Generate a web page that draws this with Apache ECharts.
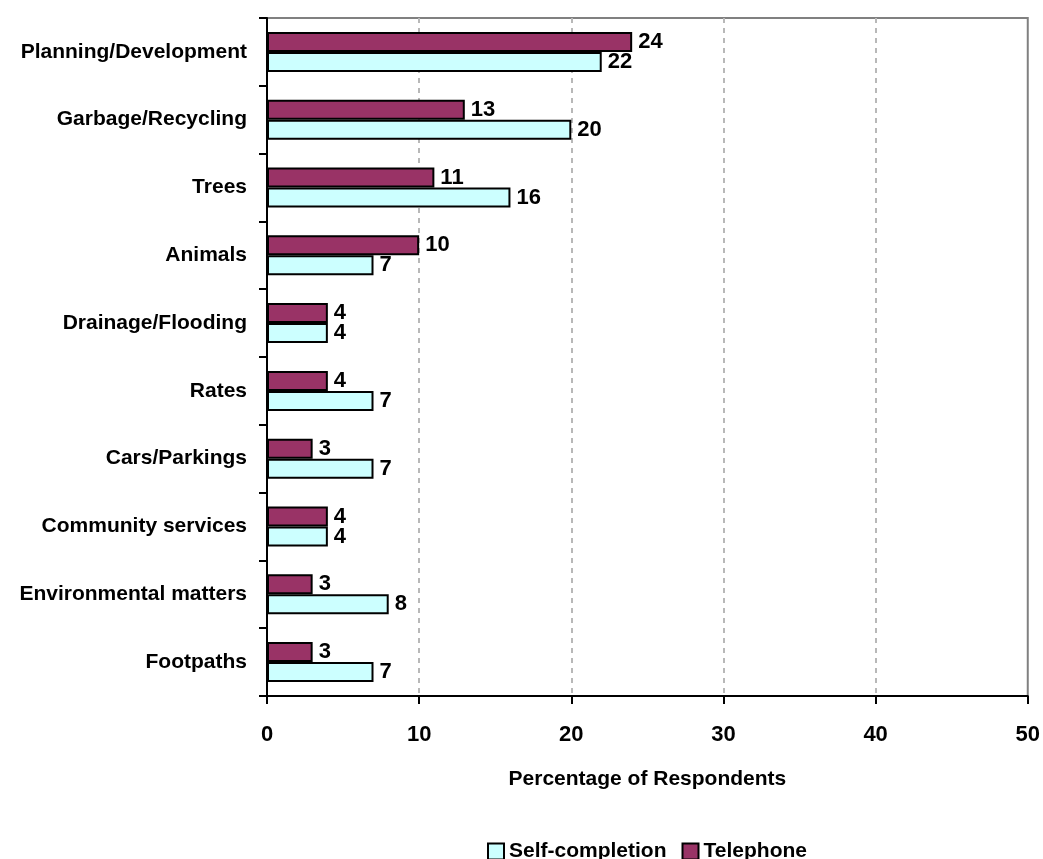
<!DOCTYPE html>
<html>
<head>
<meta charset="utf-8">
<script src="https://cdn.jsdelivr.net/npm/echarts@6/dist/echarts.min.js"></script>
<style>
html,body{margin:0;padding:0;background:#fff;}
#chart{width:1043px;height:859px;}
</style>
</head>
<body>
<div id="chart"></div>
<script>
const categories = ["Planning/Development","Garbage/Recycling","Trees","Animals","Drainage/Flooding","Rates","Cars/Parkings","Community services","Environmental matters","Footpaths"];
const telephone = [24,13,11,10,4,4,3,4,3,3];
const selfCompletion = [22,20,16,7,4,7,7,4,8,7];
const xTicks = {min:0, max:50, interval:10};
const FONT = "Liberation Sans";

const chart = echarts.init(document.getElementById('chart'), null, {renderer:'canvas'});
const labelStyle = {show:true, position:'right', distance:6, color:'#000', fontFamily:FONT, fontWeight:'bold', fontSize:22};
chart.setOption({
  animation:false,
  backgroundColor:'#fff',
  textStyle:{fontFamily:FONT},
  grid:{left:267, right:14, top:18, bottom:163, show:true, borderColor:'#808080', borderWidth:2},
  legend:{
    data:['Self-completion','Telephone'],
    left:482, top:836,
    icon:'rect', itemWidth:16, itemHeight:16, itemGap:15,
    itemStyle:{borderColor:'#000', borderWidth:2},
    textStyle:{fontFamily:FONT, fontWeight:'bold', fontSize:21, color:'#000'}
  },
  xAxis:{
    type:'value', min:xTicks.min, max:xTicks.max, interval:xTicks.interval,
    name:'Percentage of Respondents', nameLocation:'middle', nameGap:73,
    nameTextStyle:{fontFamily:FONT, fontWeight:'bold', fontSize:21, color:'#000'},
    axisLine:{show:true, lineStyle:{color:'#000', width:2}},
    axisTick:{show:true, length:8, lineStyle:{color:'#000', width:2}},
    axisLabel:{margin:28, color:'#000', fontFamily:FONT, fontWeight:'bold', fontSize:22},
    splitLine:{show:true, showMinLine:false, showMaxLine:false,
      lineStyle:{color:['#b8b8b8','#b8b8b8','#b8b8b8','#b8b8b8','#b8b8b8','#808080'], width:2, type:[5,5]}}
  },
  yAxis:{
    type:'category', data:categories, inverse:true,
    axisLine:{show:true, lineStyle:{color:'#000', width:2}},
    axisTick:{show:true, length:8, lineStyle:{color:'#000', width:2}},
    axisLabel:{margin:20, color:'#000', fontFamily:FONT, fontWeight:'bold', fontSize:21}
  },
  series:[
    {name:'Telephone', type:'bar', data:telephone, barWidth:20, barGap:'0%',
     itemStyle:{color:'#993366', borderColor:'#000', borderWidth:2}, label:labelStyle},
    {name:'Self-completion', type:'bar', data:selfCompletion, barWidth:20, barGap:'0%',
     itemStyle:{color:'#ccffff', borderColor:'#000', borderWidth:2}, label:labelStyle}
  ]
});
</script>
</body>
</html>
